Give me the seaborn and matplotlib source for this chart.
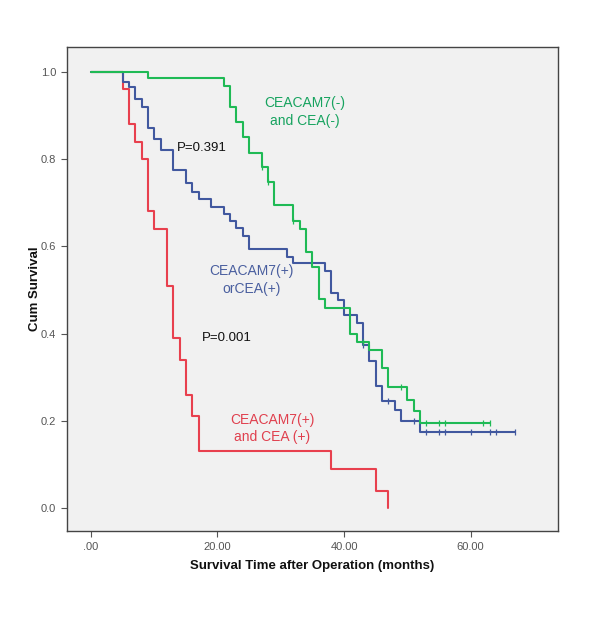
import numpy as np
import pandas as pd
import matplotlib
matplotlib.use("Agg")
import matplotlib.pyplot as plt
import seaborn as sns

# Kaplan-Meier step values (months, cumulative survival)
red_t = [0, 5, 6, 7, 8, 9, 10, 12, 13, 14, 15, 16, 17, 38, 45, 47]
red_s = [1.0, 0.96, 0.88, 0.84, 0.80, 0.68, 0.64, 0.51, 0.39, 0.34, 0.26, 0.21, 0.13, 0.09, 0.04, 0.0]

blue_t = [0, 5, 6, 7, 8, 9, 10, 11, 13, 15, 16, 17, 19, 21, 22, 23, 24, 25, 31, 32,
          37, 38, 39, 40, 42, 43, 44, 45, 46, 48, 49, 52, 67]
blue_s = [1.0, 0.977, 0.965, 0.938, 0.92, 0.872, 0.845, 0.822, 0.775, 0.745, 0.725, 0.708,
          0.691, 0.674, 0.658, 0.641, 0.624, 0.593, 0.576, 0.561, 0.544, 0.494, 0.477, 0.443,
          0.425, 0.374, 0.336, 0.28, 0.246, 0.225, 0.2, 0.175, 0.175]
blue_cens = [43, 47, 51, 53, 55, 56, 60, 63, 64, 67]

green_t = [0, 9, 21, 22, 23, 24, 25, 27, 28, 29, 32, 33, 34, 35, 36, 37, 41, 42, 44, 46,
           47, 50, 51, 52, 63]
green_s = [1.0, 0.985, 0.968, 0.92, 0.884, 0.85, 0.815, 0.783, 0.747, 0.695, 0.659, 0.639,
           0.586, 0.552, 0.479, 0.458, 0.4, 0.381, 0.362, 0.32, 0.277, 0.248, 0.222, 0.195, 0.195]
green_cens = [27, 28, 32, 43, 49, 53, 55, 56, 62, 63]

x_ticks = [0, 20, 40, 60]
x_ticklabels = [".00", "20.00", "40.00", "60.00"]
y_ticks = [0.0, 0.2, 0.4, 0.6, 0.8, 1.0]

RED = "#e8404e"
BLUE = "#41589f"
GREEN = "#1fba55"

sns.set_style("ticks")
plt.rcParams["font.family"] = ["Liberation Sans", "DejaVu Sans"]

fig = plt.figure(figsize=(6, 6.19), dpi=100)
ax = fig.add_axes([0.111, 0.142, 0.819, 0.782])
ax.set_facecolor("#f1f1f1")


def step_at(times, surv, pts):
    idx = np.searchsorted(times, pts, side="right") - 1
    return np.asarray(surv)[idx]


for t, s, c in [(red_t, red_s, RED), (blue_t, blue_s, BLUE), (green_t, green_s, GREEN)]:
    df = pd.DataFrame({"time": t, "surv": s})
    sns.lineplot(data=df, x="time", y="surv", ax=ax, color=c, lw=1.5,
                 drawstyle="steps-post", estimator=None, sort=False)

for t, s, cens, c in [(blue_t, blue_s, blue_cens, BLUE), (green_t, green_s, green_cens, GREEN)]:
    cdf = pd.DataFrame({"time": cens, "surv": step_at(t, s, cens)})
    sns.scatterplot(data=cdf, x="time", y="surv", ax=ax, marker="|", s=22,
                    color=c, linewidth=0.9, zorder=3)

lab = dict(fontsize=10, ha="center", va="center", linespacing=1.3)
ax.text(33.8, 0.908, "CEACAM7(-)\nand CEA(-)", color="#17a35f", **lab)
ax.text(13.6, 0.826, "P=0.391", color="#111111", fontsize=9.5, ha="left", va="center")
ax.text(25.4, 0.523, "CEACAM7(+)\norCEA(+)", color="#4a5f9f", **lab)
ax.text(17.5, 0.39, "P=0.001", color="#111111", fontsize=9.5, ha="left", va="center")
ax.text(28.7, 0.182, "CEACAM7(+)\nand CEA (+)", color="#e0404e", **lab)

ax.set_xlim(-3.84, 73.8)
ax.set_ylim(-0.053, 1.057)
ax.set_xticks(x_ticks)
ax.set_xticklabels(x_ticklabels)
ax.set_yticks(y_ticks)
ax.set_yticklabels([f"{v:.1f}" for v in y_ticks])
ax.tick_params(axis="both", colors="#555555", labelsize=8, length=4, width=0.8,
               labelcolor="#555555")
for side in ["top", "right", "left", "bottom"]:
    ax.spines[side].set_visible(True)
    ax.spines[side].set_color("#444444")
    ax.spines[side].set_linewidth(1.0)

ax.set_xlabel("Survival Time after Operation (months)", fontsize=9.5, fontweight="bold",
              color="#111111", labelpad=6)
ax.set_ylabel("Cum Survival", fontsize=9.5, fontweight="bold", color="#111111", labelpad=0)

fig.savefig("out.png", dpi=100, facecolor="white")
